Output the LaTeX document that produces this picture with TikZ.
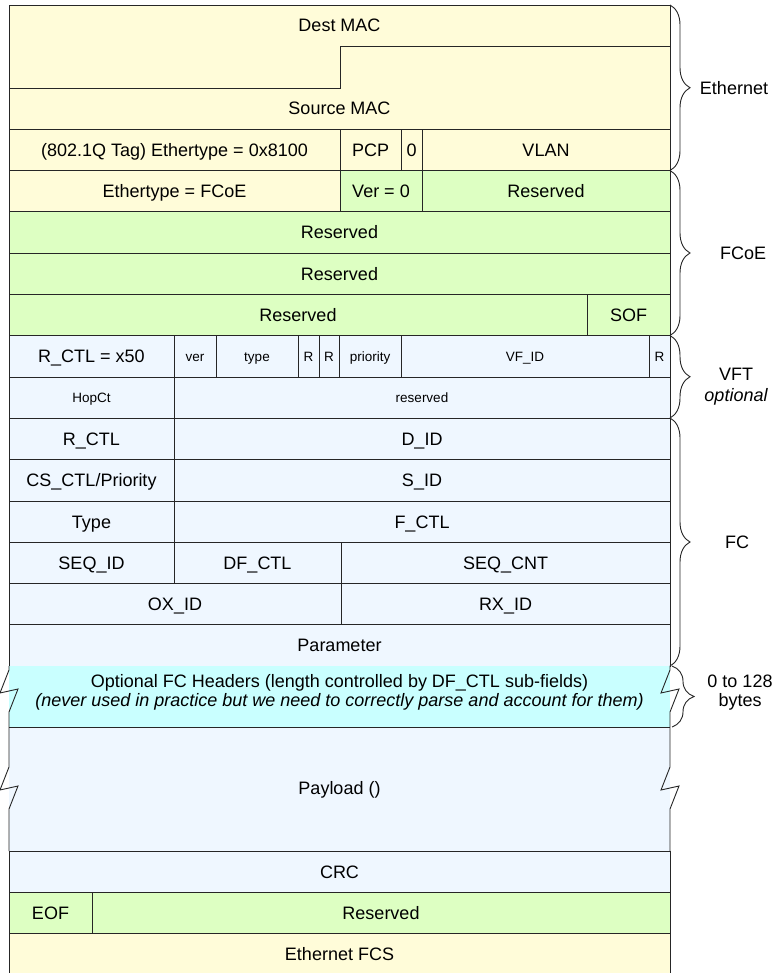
\documentclass[tikz,border=0pt]{standalone}
\usepackage{fontspec}
\setmainfont{Liberation Sans}
\usetikzlibrary{decorations.pathreplacing}
\definecolor{ethY}{HTML}{FFFCD9}
\definecolor{fcoeG}{HTML}{DDFFC2}
\definecolor{fcB}{HTML}{EFF7FF}
\definecolor{optC}{HTML}{C9FFFF}
\definecolor{lineC}{HTML}{262626}
\tikzset{
  cellbox/.style={draw=lineC, line width=0.9pt},
  txt/.style={font=\fontsize{18}{20}\selectfont, inner sep=0pt, text height=13pt, text depth=0pt},
  smalltxt/.style={font=\fontsize{13.5}{15}\selectfont, inner sep=0pt, text height=9.8pt, text depth=0pt},
  bracestyle/.style={decorate, decoration={brace, amplitude=20pt}, draw=lineC, line width=0.9pt},
}
% name, x1, y1, x2, y2, fill, text style, text
\newcommand\fld[8]{%
  \path[cellbox, fill=#6] (#2,#3) rectangle (#4,#5);
  \node[#7] (#1) at ({(#2+#4)/2},{(#3+#5)/2}) {#8};}
\begin{document}
\begin{tikzpicture}[x=1pt,y=-1pt]
\useasboundingbox (0,0) rectangle (782,973);
\fill[white] (0,0) rectangle (782,973);

% Dest / Source MAC
\path[cellbox, fill=ethY] (9,5) rectangle (670,129);
\draw[cellbox] (9,88) -- (340,88) -- (340,46) -- (670,46);
\node[txt] (dmac) at (339.5,25.5) {Dest MAC};
\node[txt] (smac) at (339.5,108.5) {Source MAC};

% 802.1Q
\fld{qtag}{9}{129}{340}{170.5}{ethY}{txt}{(802.1Q Tag) Ethertype = 0x8100}
\fld{pcp}{340}{129}{401}{170.5}{ethY}{txt}{PCP}
\fld{zero}{401}{129}{422}{170.5}{ethY}{txt}{0}
\fld{vlan}{422}{129}{670}{170.5}{ethY}{txt}{VLAN}

% FCoE
\fld{etype}{9}{170.5}{340}{211.5}{ethY}{txt}{Ethertype = FCoE}
\fld{ver}{340}{170.5}{422}{211.5}{fcoeG}{txt}{Ver = 0}
\fld{res1}{422}{170.5}{670}{211.5}{fcoeG}{txt}{Reserved}
\fld{res2}{9}{211.5}{670}{253}{fcoeG}{txt}{Reserved}
\fld{res3}{9}{253}{670}{294}{fcoeG}{txt}{Reserved}
\fld{res4}{9}{294}{587}{335.5}{fcoeG}{txt}{Reserved}
\fld{sof}{587}{294}{670}{335.5}{fcoeG}{txt}{SOF}

% VFT
\fld{vrctl}{9}{335.5}{174}{377}{fcB}{txt}{R\_CTL = x50}
\fld{vver}{174}{335.5}{216}{377}{fcB}{smalltxt}{ver}
\fld{vtype}{216}{335.5}{298}{377}{fcB}{smalltxt}{type}
\fld{vr1}{298}{335.5}{319}{377}{fcB}{smalltxt}{R}
\fld{vr2}{319}{335.5}{339}{377}{fcB}{smalltxt}{R}
\fld{vprio}{339}{335.5}{401}{377}{fcB}{smalltxt}{priority}
\fld{vfid}{401}{335.5}{649}{377}{fcB}{smalltxt}{VF\_ID}
\fld{vr3}{649}{335.5}{670}{377}{fcB}{smalltxt}{R}
\fld{hop}{9}{377}{174}{418}{fcB}{smalltxt}{HopCt}
\fld{vres}{174}{377}{670}{418}{fcB}{smalltxt}{reserved}

% FC
\fld{rctl}{9}{418}{174}{459.5}{fcB}{txt}{R\_CTL}
\fld{did}{174}{418}{670}{459.5}{fcB}{txt}{D\_ID}
\fld{csctl}{9}{459.5}{174}{501}{fcB}{txt}{CS\_CTL/Priority}
\fld{sid}{174}{459.5}{670}{501}{fcB}{txt}{S\_ID}
\fld{ftype}{9}{501}{174}{542}{fcB}{txt}{Type}
\fld{fctl}{174}{501}{670}{542}{fcB}{txt}{F\_CTL}
\fld{seqid}{9}{542}{174}{583.5}{fcB}{txt}{SEQ\_ID}
\fld{dfctl}{174}{542}{341}{583.5}{fcB}{txt}{DF\_CTL}
\fld{seqcnt}{341}{542}{670}{583.5}{fcB}{txt}{SEQ\_CNT}
\fld{oxid}{9}{583.5}{341}{624.5}{fcB}{txt}{OX\_ID}
\fld{rxid}{341}{583.5}{670}{624.5}{fcB}{txt}{RX\_ID}
\fld{param}{9}{624.5}{670}{666}{fcB}{txt}{Parameter}

% Optional headers and payload (broken sides)
\fill[optC] (9,666) rectangle (670,727);
\fill[fcB] (9,727) rectangle (670,851);
\draw[cellbox] (9,727) -- (670,727);
\draw[cellbox, line join=miter] (9,666) -- (9,670) -- (0,693) -- (18,689) -- (9,712) -- (9,767) -- (0,790) -- (18,786) -- (9,809) -- (9,851);
\draw[cellbox, line join=miter] (670,666) -- (670,670) -- (661,693) -- (679,689) -- (670,712) -- (670,767) -- (661,790) -- (679,786) -- (670,809) -- (670,851);
\node[txt] (opt1) at (339.5,681) {Optional FC Headers (length controlled by DF\_CTL sub-fields)};
\node[txt] (opt2) at (339.5,700) {\itshape (never used in practice but we need to correctly parse and account for them)};
\node[txt] (payload) at (339.5,788) {Payload ()};

% trailer
\fld{crc}{9}{851}{670}{892}{fcB}{txt}{CRC}
\fld{eof}{9}{892}{92}{933}{fcoeG}{txt}{EOF}
\fld{res5}{92}{892}{670}{933}{fcoeG}{txt}{Reserved}
\fld{fcs}{9}{933}{670}{974}{ethY}{txt}{Ethernet FCS}

% braces
\draw[bracestyle] (670,5) -- (670,170.5);
\draw[bracestyle] (670,170.5) -- (670,335.5);
\draw[bracestyle] (670,335.5) -- (670,418);
\draw[bracestyle] (670,418) -- (670,666);
\draw[bracestyle, decoration={brace, amplitude=22pt}] (672,666) -- (672,727);

\node[txt] (lEth) at (734,88) {Ethernet};
\node[txt] (lFCoE) at (743,253) {FCoE};
\node[txt] (lVFT) at (736,374) {VFT};
\node[txt] (lOpt) at (736,395) {\itshape optional};
\node[txt] (lFC) at (737,542) {FC};
\node[txt] (lBytes1) at (740,681) {0 to 128};
\node[txt] (lBytes2) at (740,700) {bytes};
\end{tikzpicture}
\end{document}
